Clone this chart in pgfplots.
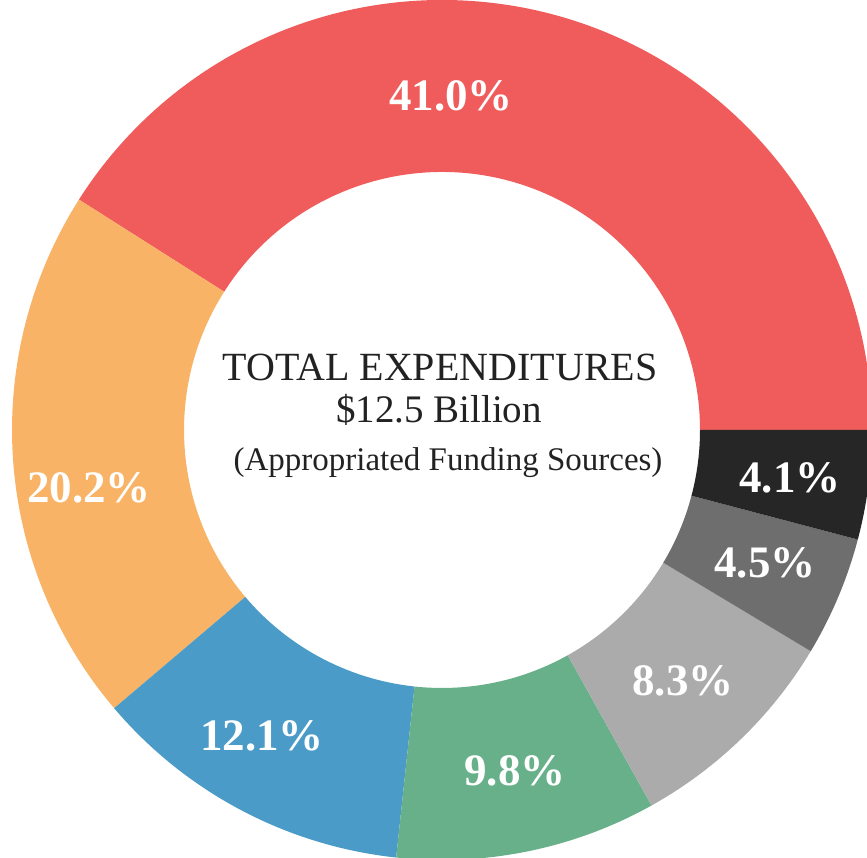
\documentclass[border=0pt]{standalone}
\usepackage{fontspec}
\setmainfont{Liberation Serif}
\usepackage{pgfplots}
\pgfplotsset{compat=1.18}
\usepackage{pgfplotstable}
\definecolor{cRed}{HTML}{F05C5C}
\definecolor{cOrange}{HTML}{F8B366}
\definecolor{cBlue}{HTML}{4A9BC7}
\definecolor{cGreen}{HTML}{68B08A}
\definecolor{cGray}{HTML}{ABABAB}
\definecolor{cDark}{HTML}{6E6E6E}
\definecolor{cBlack}{HTML}{262626}
\definecolor{cText}{HTML}{222222}
% slice: start (cumulative %), end (cumulative %), colour ; counter-clockwise from 3 o'clock
\newcommand{\slice}[3]{%
  \fill[#3] (axis cs:{430*cos(3.6*#1)},{430*sin(3.6*#1)})
    arc[start angle={3.6*#1}, end angle={3.6*#2}, radius=430pt]
    -- (axis cs:{258*cos(3.6*#2)},{258*sin(3.6*#2)})
    arc[start angle={3.6*#2}, end angle={3.6*#1}, radius=258pt] -- cycle;}
\begin{document}
\begin{tikzpicture}
\begin{axis}[
  width=867pt, height=862pt, scale only axis,
  xmin=-442, xmax=425, ymin=-428, ymax=434,
  hide axis, clip=true,
]
% values: Red 41.0, Orange 20.2, Blue 12.1, Green 9.8, Gray 8.3, Dark 4.5, Black 4.1
\slice{0}{41.0}{cRed}
\slice{41.0}{61.2}{cOrange}
\slice{61.2}{73.3}{cBlue}
\slice{73.3}{83.1}{cGreen}
\slice{83.1}{91.4}{cGray}
\slice{91.4}{95.9}{cDark}
\slice{95.9}{100.0}{cBlack}
\begin{scope}[every node/.style={text=white, font=\fontsize{45}{48}\selectfont\bfseries}]
\node at (axis cs:9,334) {41.0\%};
\node at (axis cs:-353,-58) {20.2\%};
\node at (axis cs:-180,-306) {12.1\%};
\node at (axis cs:73,-341) {9.8\%};
\node at (axis cs:241,-251) {8.3\%};
\node at (axis cs:323,-133) {4.5\%};
\node at (axis cs:348,-48) {4.1\%};
\end{scope}
\node[text=cText, font=\fontsize{40}{44}\selectfont] at (axis cs:-2,63) {TOTAL EXPENDITURES};
\node[text=cText, font=\fontsize{39}{42}\selectfont] at (axis cs:-3,20) {\$12.5 Billion};
\node[text=cText, font=\fontsize{33}{36}\selectfont] at (axis cs:6,-33) {(Appropriated Funding Sources)};
\end{axis}
\end{tikzpicture}
\end{document}
